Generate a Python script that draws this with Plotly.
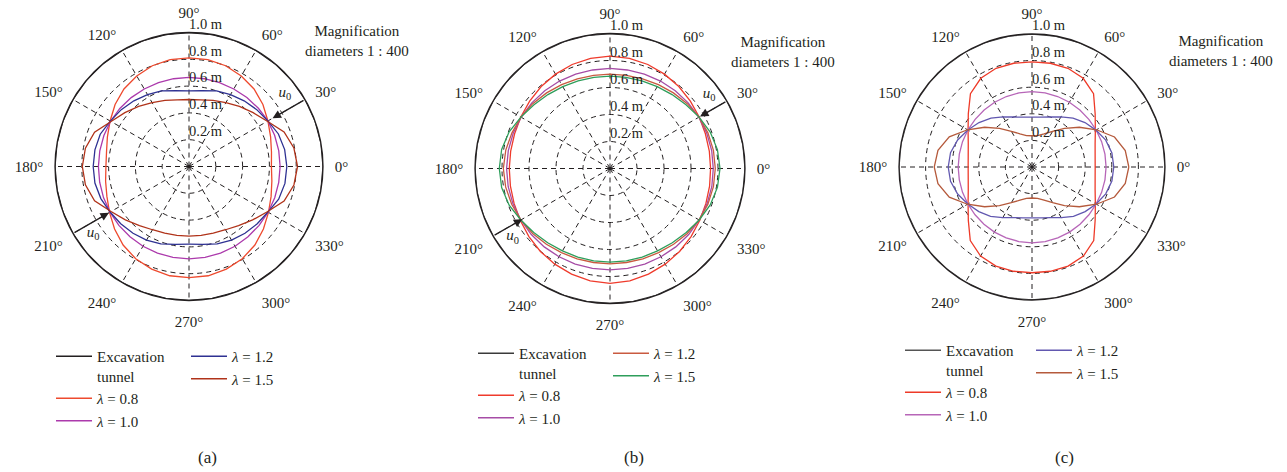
import math
import plotly.graph_objects as go

W, H = 1287, 472
FONT = "Liberation Serif"
INK = "#231f20"

# polar angle of every sample (degrees, counter-clockwise from the right)
theta = list(range(0, 360, 10))

# radius of the excavated tunnel contour (m)
TUNNEL_R = 1.0

# ---- (a) displacement contours, m -------------------------------------
a_l08 = [0.615, 0.625, 0.648, 0.68, 0.72, 0.755, 0.78, 0.80, 0.81, 0.81,
         0.81, 0.80, 0.78, 0.755, 0.72, 0.68, 0.648, 0.625,
         0.62, 0.632, 0.652, 0.685, 0.725, 0.765, 0.795, 0.815, 0.828, 0.83,
         0.828, 0.815, 0.795, 0.765, 0.725, 0.685, 0.652, 0.628]
a_l10 = [0.68, 0.68, 0.68, 0.68, 0.676, 0.672, 0.668, 0.666, 0.665, 0.665,
         0.665, 0.666, 0.668, 0.671, 0.674, 0.676, 0.676, 0.676,
         0.676, 0.677, 0.679, 0.681, 0.683, 0.685, 0.687, 0.688, 0.689, 0.689,
         0.689, 0.688, 0.687, 0.685, 0.683, 0.682, 0.681, 0.68]
a_l12 = [0.73, 0.725, 0.71, 0.68, 0.66, 0.64, 0.62, 0.60, 0.575, 0.565,
         0.575, 0.60, 0.62, 0.64, 0.66, 0.678, 0.705, 0.713,
         0.715, 0.713, 0.70, 0.68, 0.665, 0.65, 0.635, 0.615, 0.59, 0.58,
         0.59, 0.615, 0.635, 0.65, 0.665, 0.68, 0.712, 0.727]
a_l15 = [0.81, 0.795, 0.755, 0.675, 0.625, 0.585, 0.55, 0.525, 0.505, 0.50,
         0.505, 0.525, 0.55, 0.585, 0.625, 0.672, 0.75, 0.785,
         0.796, 0.785, 0.75, 0.672, 0.62, 0.575, 0.545, 0.53, 0.522, 0.52,
         0.522, 0.53, 0.545, 0.575, 0.62, 0.675, 0.755, 0.795]

# ---- (b) ---------------------------------------------------------------
b_l08 = [0.745, 0.747, 0.752, 0.763, 0.777, 0.793, 0.807, 0.82, 0.829, 0.833,
         0.829, 0.82, 0.807, 0.793, 0.777, 0.763, 0.752, 0.747,
         0.746, 0.749, 0.756, 0.768, 0.784, 0.802, 0.818, 0.833, 0.845, 0.851,
         0.845, 0.833, 0.818, 0.802, 0.784, 0.768, 0.756, 0.749]
b_l10 = [0.765, 0.765, 0.763, 0.76, 0.756, 0.752, 0.748, 0.744, 0.741, 0.741,
         0.741, 0.744, 0.748, 0.752, 0.756, 0.76, 0.763, 0.765,
         0.766, 0.766, 0.765, 0.763, 0.761, 0.758, 0.755, 0.753, 0.751, 0.751,
         0.751, 0.753, 0.755, 0.758, 0.761, 0.763, 0.765, 0.766]
b_l12 = [0.78, 0.778, 0.772, 0.762, 0.747, 0.731, 0.717, 0.707, 0.701, 0.699,
         0.701, 0.707, 0.717, 0.731, 0.747, 0.762, 0.773, 0.784,
         0.79, 0.785, 0.775, 0.762, 0.748, 0.733, 0.72, 0.712, 0.707, 0.706,
         0.707, 0.712, 0.72, 0.733, 0.748, 0.762, 0.772, 0.778]
b_l15 = [0.815, 0.808, 0.79, 0.762, 0.735, 0.715, 0.70, 0.691, 0.686, 0.684,
         0.686, 0.691, 0.70, 0.715, 0.735, 0.762, 0.795, 0.815,
         0.82, 0.815, 0.795, 0.763, 0.737, 0.718, 0.705, 0.698, 0.695, 0.694,
         0.695, 0.698, 0.705, 0.718, 0.737, 0.763, 0.79, 0.808]

# ---- (c) ---------------------------------------------------------------
c_l08 = [0.475, 0.482, 0.505, 0.55, 0.62, 0.72, 0.77, 0.79, 0.792, 0.79,
         0.792, 0.79, 0.77, 0.72, 0.625, 0.555, 0.51, 0.487,
         0.48, 0.487, 0.51, 0.555, 0.625, 0.722, 0.773, 0.793, 0.796, 0.795,
         0.796, 0.793, 0.773, 0.722, 0.62, 0.55, 0.505, 0.482]
c_l10 = [0.557, 0.557, 0.557, 0.557, 0.558, 0.56, 0.562, 0.564, 0.566, 0.567,
         0.566, 0.564, 0.562, 0.56, 0.558, 0.557, 0.556, 0.555,
         0.555, 0.555, 0.556, 0.557, 0.559, 0.562, 0.565, 0.567, 0.569, 0.57,
         0.569, 0.567, 0.565, 0.562, 0.559, 0.557, 0.557, 0.557]
c_l12 = [0.615, 0.61, 0.59, 0.555, 0.52, 0.48, 0.435, 0.40, 0.381, 0.375,
         0.381, 0.40, 0.435, 0.48, 0.52, 0.557, 0.595, 0.622,
         0.63, 0.622, 0.595, 0.557, 0.522, 0.485, 0.44, 0.405, 0.388, 0.383,
         0.388, 0.405, 0.44, 0.485, 0.522, 0.557, 0.59, 0.61]
c_l15 = [0.728, 0.712, 0.66, 0.56, 0.465, 0.38, 0.31, 0.265, 0.24, 0.235,
         0.24, 0.265, 0.31, 0.38, 0.465, 0.56, 0.662, 0.718,
         0.735, 0.718, 0.662, 0.56, 0.465, 0.38, 0.31, 0.265, 0.24, 0.233,
         0.24, 0.265, 0.31, 0.38, 0.465, 0.56, 0.66, 0.712]

lambda_names = ["<i>λ</i> = 0.8", "<i>λ</i> = 1.0", "<i>λ</i> = 1.2", "<i>λ</i> = 1.5"]
ring_vals = [0.2, 0.4, 0.6, 0.8, 1.0]
ring_text = ["0.2 m", "0.4 m", "0.6 m", "0.8 m", "1.0 m"]
angle_ticks = list(range(0, 360, 30))
angle_text = [f"{a}°" for a in angle_ticks]

panels = [
    dict(key="polar", center=(189, 166.5), R=134, tag="(a)", tag_x=207,
         series=[a_l08, a_l10, a_l12, a_l15],
         colors=["#231f20", "#ee4a2e", "#ac3aac", "#2e3192", "#b0331a"],
         legends=("legend", "legend2"), leg_x=(51, 186), leg_y=340,
         note=(357, 41), arrows=[(30, 0.72), (210, 0.69)],
         u0=[(0.90, 37.4), (0.87, 214.7)]),
    dict(key="polar2", center=(610, 168.5), R=135, tag="(b)", tag_x=634,
         series=[b_l08, b_l10, b_l12, b_l15],
         colors=["#3a3a3a", "#ef3b2c", "#a64ca6", "#c95a40", "#2e9e5b"],
         legends=("legend3", "legend4"), leg_x=(473, 608), leg_y=337,
         note=(783, 52), arrows=[(30, 0.77), (210, 0.75)],
         u0=[(0.92, 37.0), (0.88, 215.0)]),
    dict(key="polar3", center=(1032, 167), R=133, tag="(c)", tag_x=1064,
         series=[c_l08, c_l10, c_l12, c_l15],
         colors=["#555555", "#ee3a28", "#b766b8", "#6258b0", "#b55a3c"],
         legends=("legend5", "legend6"), leg_x=(900, 1031), leg_y=334,
         note=(1221, 51), arrows=[], u0=[]),
]


def closed(vals):
    return list(vals) + [vals[0]]


fig = go.Figure()
layout = dict(width=W, height=H, margin=dict(l=0, r=0, t=0, b=0),
              paper_bgcolor="white", showlegend=True,
              font=dict(family=FONT, size=15, color=INK))
annotations = []

for p in panels:
    cx, cy = p["center"]
    R = p["R"]
    dom = dict(x=[(cx - R) / W, (cx + R) / W],
               y=[(H - cy - R) / H, (H - cy + R) / H])
    grid = dict(gridcolor=INK, griddash="5px,4px", gridwidth=1)
    layout[p["key"]] = dict(
        domain=dom, bgcolor="white",
        radialaxis=dict(range=[0, 1.0], tickvals=ring_vals, showticklabels=False,
                        showline=False, ticks="", **grid),
        angularaxis=dict(rotation=0, direction="counterclockwise",
                         tickmode="array", tickvals=angle_ticks, ticktext=angle_text,
                         ticks="outside", ticklen=8, tickcolor="rgba(0,0,0,0)",
                         showline=True, linecolor=INK, linewidth=1.3,
                         tickfont=dict(family=FONT, size=15, color=INK), **grid),
    )
    sub = p["key"]
    leg_left, leg_right = p["legends"]

    # tunnel contour
    fig.add_trace(go.Scatterpolar(
        r=closed([TUNNEL_R] * len(theta)), theta=closed(theta), mode="lines",
        line=dict(color=p["colors"][0], width=1.3), subplot=sub,
        name="Excavation<br>tunnel", legend=leg_left))
    for i, (vals, nm) in enumerate(zip(p["series"], lambda_names)):
        fig.add_trace(go.Scatterpolar(
            r=closed(vals), theta=closed(theta), mode="lines",
            line=dict(color=p["colors"][i + 1], width=1.3), subplot=sub,
            name=nm, legend=leg_left if i < 2 else leg_right))

    # ring labels along the 90° spoke
    fig.add_trace(go.Scatterpolar(
        r=ring_vals, theta=[90] * len(ring_vals), mode="text", text=ring_text,
        textposition="top right", textfont=dict(family=FONT, size=14.5, color=INK),
        subplot=sub, showlegend=False, cliponaxis=False, hoverinfo="skip"))

    # u0 labels
    if p["u0"]:
        fig.add_trace(go.Scatterpolar(
            r=[u[0] for u in p["u0"]], theta=[u[1] for u in p["u0"]], mode="text",
            text=["<i>u</i><sub>0</sub>"] * len(p["u0"]),
            textfont=dict(family=FONT, size=15, color=INK), subplot=sub,
            showlegend=False, cliponaxis=False, hoverinfo="skip"))

    # load arrows u0 along a spoke, from the outer ring to the contour
    for ang, r_head in p["arrows"]:
        ca, sa = math.cos(math.radians(ang)), math.sin(math.radians(ang))
        hx = cx + r_head * R * ca
        hy = cy - r_head * R * sa
        tx = cx + 1.0 * R * ca
        ty = cy - 1.0 * R * sa
        annotations.append(dict(
            x=hx / W, y=1 - hy / H, xref="paper", yref="paper",
            ax=tx - hx, ay=ty - hy, axref="pixel", ayref="pixel",
            showarrow=True, arrowhead=2, arrowsize=1.3, arrowwidth=1.3,
            arrowcolor=INK, text=""))

    # magnification note
    nx, ny = p["note"]
    annotations.append(dict(
        x=nx / W, y=1 - ny / H, xref="paper", yref="paper", showarrow=False,
        xanchor="center", yanchor="middle", align="center",
        text="Magnification<br>diameters 1 : 400",
        font=dict(family=FONT, size=15, color=INK)))

    # panel tag
    annotations.append(dict(
        x=p["tag_x"] / W, y=1 - 457 / H, xref="paper", yref="paper",
        showarrow=False, xanchor="center", yanchor="middle", text=p["tag"],
        font=dict(family=FONT, size=17, color=INK)))

    lx0, lx1 = p["leg_x"]
    for name, lx in ((leg_left, lx0), (leg_right, lx1)):
        layout[name] = dict(
            x=lx / W, y=1 - p["leg_y"] / H, xanchor="left", yanchor="top",
            orientation="v", bgcolor="rgba(0,0,0,0)", borderwidth=0,
            font=dict(family=FONT, size=15, color=INK), valign="top",
            tracegroupgap=0, itemwidth=36, itemclick=False, itemdoubleclick=False)

layout["annotations"] = annotations
fig.update_layout(**layout)
fig.write_html("out.html")
